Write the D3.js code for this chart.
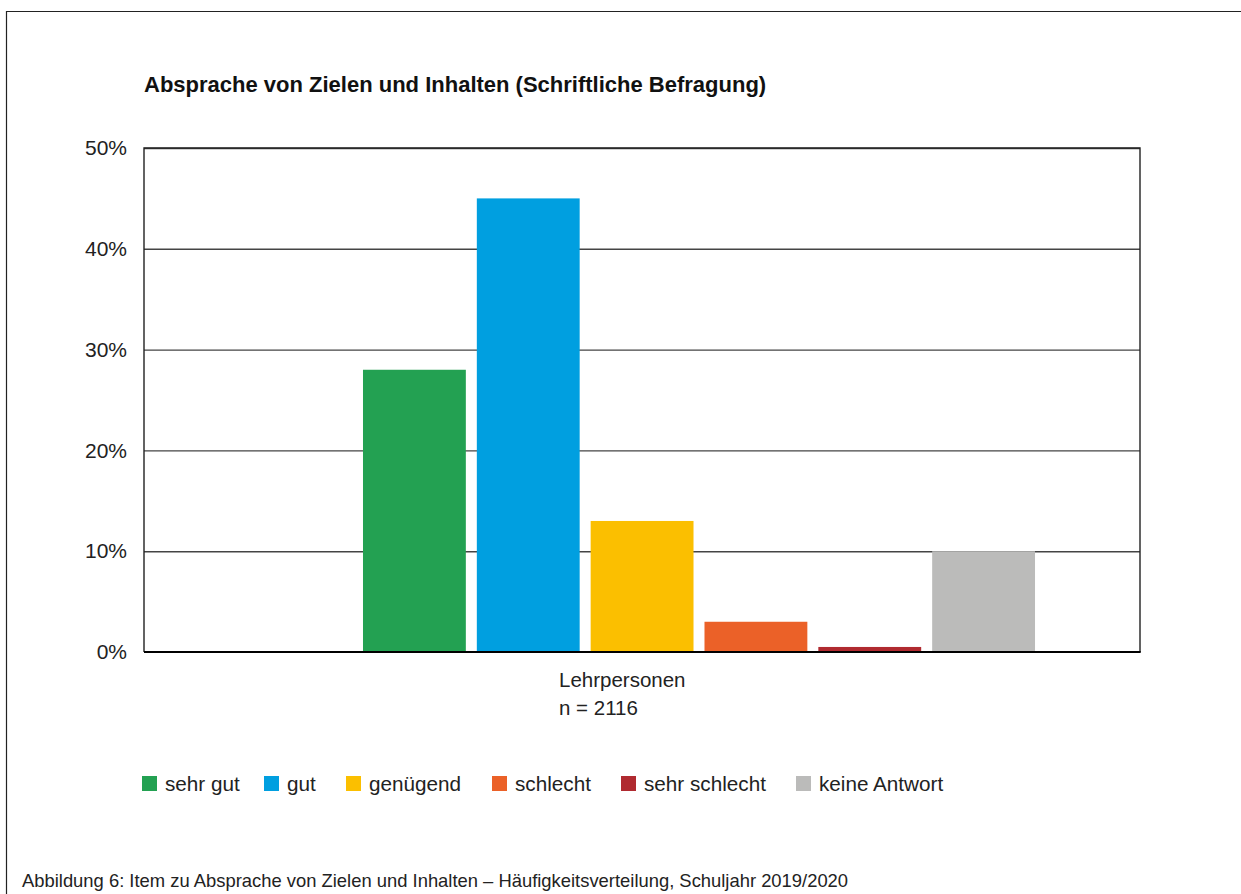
<!DOCTYPE html>
<html>
<head>
<meta charset="utf-8">
<script src="https://cdn.jsdelivr.net/npm/d3@7"></script>
<style>
  html, body { margin: 0; padding: 0; background: #fff; }
  svg { display: block; }
  text { font-family: "Liberation Sans", Arial, Helvetica, sans-serif; }
</style>
</head>
<body>
<svg id="chart" width="1241" height="894"></svg>
<script>
// Chart content
const title = "Absprache von Zielen und Inhalten (Schriftliche Befragung)";
const groupLabel = ["Lehrpersonen", "n = 2116"];
const caption = "Abbildung 6: Item zu Absprache von Zielen und Inhalten – Häufigkeitsverteilung, Schuljahr 2019/2020";

const categories = ["sehr gut", "gut", "genügend", "schlecht", "sehr schlecht", "keine Antwort"];
const values = [28, 45, 13, 3, 0.5, 10];          // percent of respondents
const colors = ["#23a152", "#009fe0", "#fbbf00", "#eb6128", "#b02a30", "#bbbbba"];
const yTicks = [0, 10, 20, 30, 40, 50];

const svg = d3.select("#chart");

// Frame around the figure (open at right and bottom)
svg.append("path")
  .attr("d", "M6.5,894 V11.5 H1241")
  .attr("fill", "none")
  .attr("stroke", "#222")
  .attr("stroke-width", 1.2);

// Plot area
const plot = { left: 144, right: 1140, top: 148, bottom: 652 };

const y = d3.scaleLinear().domain([0, 50]).range([plot.bottom, plot.top]);

// Bars sit in one group, laid out as a band scale over the categories
const x = d3.scaleBand()
  .domain(categories)
  .range([357.5, 1040.5])
  .paddingInner(0.0965)
  .paddingOuter(0.0482);

// Title
svg.append("text")
  .attr("x", plot.left)
  .attr("y", 92)
  .attr("font-size", 22)
  .attr("font-weight", "bold")
  .attr("fill", "#111")
  .text(title);

// Horizontal gridlines via the axis generator
const grid = svg.append("g")
  .attr("transform", `translate(${plot.left},0)`)
  .call(d3.axisRight(y).tickValues(yTicks.filter(t => t > 0)).tickSize(plot.right - plot.left).tickFormat(""));
grid.select(".domain").remove();
grid.selectAll(".tick line").attr("stroke", "#444").attr("stroke-width", 1.4);

// Y axis labels
const yAxis = svg.append("g")
  .attr("transform", `translate(${plot.left},0)`)
  .call(d3.axisLeft(y).tickValues(yTicks).tickSize(0).tickPadding(17).tickFormat(d => d + "%"));
yAxis.select(".domain").remove();
yAxis.selectAll(".tick text")
  .attr("font-size", 21)
  .attr("fill", "#222")
  .attr("font-family", "'Liberation Sans', Arial, sans-serif");

// Bars
svg.append("g")
  .selectAll("rect")
  .data(categories.map((c, i) => ({ c, v: values[i], col: colors[i] })))
  .join("rect")
  .attr("x", d => x(d.c))
  .attr("width", x.bandwidth())
  .attr("y", d => y(d.v))
  .attr("height", d => y(0) - y(d.v))
  .attr("fill", d => d.col);

// Plot frame: left, top, right edges and the baseline
svg.append("path")
  .attr("d", `M${plot.left},${plot.bottom} V${plot.top} H${plot.right} V${plot.bottom}`)
  .attr("fill", "none")
  .attr("stroke", "#222")
  .attr("stroke-width", 1.4);
svg.append("line")
  .attr("x1", plot.left).attr("x2", plot.right + 0.7)
  .attr("y1", plot.bottom).attr("y2", plot.bottom)
  .attr("stroke", "#000")
  .attr("stroke-width", 2);

// Group label under the bars
svg.append("g")
  .selectAll("text")
  .data(groupLabel)
  .join("text")
  .attr("x", 559)
  .attr("y", (d, i) => 687 + i * 27.5)
  .attr("font-size", 20.5)
  .attr("fill", "#222")
  .text(d => d);

// Legend
const legendX = [142, 264, 346, 492, 621, 796];
const legend = svg.append("g")
  .selectAll("g")
  .data(categories)
  .join("g")
  .attr("transform", (d, i) => `translate(${legendX[i]},776)`);
legend.append("rect")
  .attr("width", 15).attr("height", 15)
  .attr("fill", (d, i) => colors[i]);
legend.append("text")
  .attr("x", 23)
  .attr("y", 14.5)
  .attr("font-size", 20.7)
  .attr("fill", "#222")
  .text(d => d);

// Caption
svg.append("text")
  .attr("x", 22)
  .attr("y", 887)
  .attr("font-size", 18.4)
  .attr("fill", "#222")
  .text(caption);
</script>
</body>
</html>
